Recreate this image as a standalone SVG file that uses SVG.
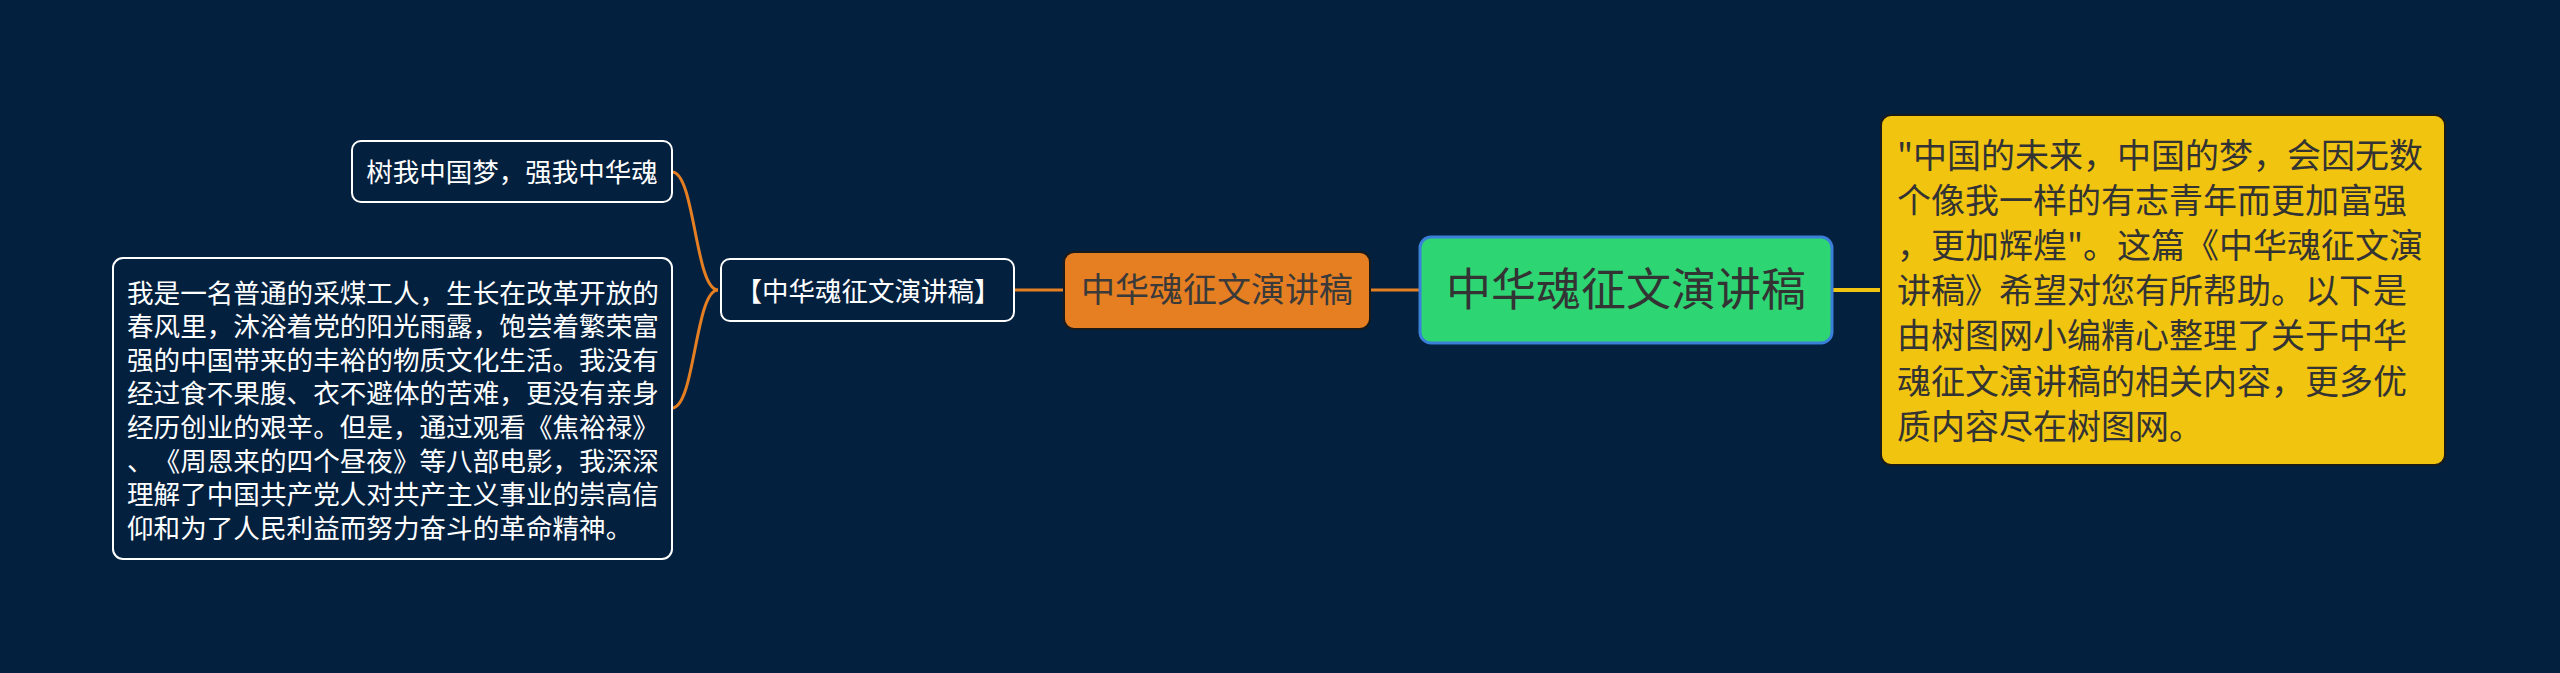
<svg xmlns="http://www.w3.org/2000/svg" width="2560" height="673" viewBox="0 0 2560 673">
<style>
text{font-family:"Noto Sans CJK SC","Noto Sans",sans-serif;text-spacing-trim:space-all;font-feature-settings:"chws" 0,"halt" 0;}
.lt{fill:#ffffff;}
.dk{fill:#333333;}
.outline{fill:#03213f;stroke:#ffffff;stroke-width:2;}
.ln{fill:none;stroke:#e67e22;stroke-width:3;}
</style>
<rect x="0" y="0" width="2560" height="673" fill="#03213f"/>
<g id="connectors">
<path class="ln" d="M718 290 C695 290 695 172 672 172"/>
<path class="ln" d="M718 290 C695 290 695 408 672 408"/>
<path class="ln" d="M1014 290 L1064 290"/>
<path class="ln" d="M1370 290 L1420 290"/>
<path d="M1832 290 L1881 290" fill="none" stroke="#f1c40f" stroke-width="4"/>
</g>
<g id="node-center">
<rect x="1420" y="237" width="412" height="106" rx="11" fill="#2ed573" stroke="#3a7fd8" stroke-width="3"/>
<text x="1626" y="306" font-size="45" text-anchor="middle" class="dk">中华魂征文演讲稿</text>
</g>
<g id="node-summary">
<rect x="1881" y="115" width="564" height="350" rx="10" fill="#f1c40f" stroke="#1a1a1a" stroke-width="2"/>
<text font-size="34" class="dk">
<tspan x="1897" y="167.5">"中国的未来，中国的梦，会因无数</tspan>
<tspan x="1897" y="212.7">个像我一样的有志青年而更加富强</tspan>
<tspan x="1897" y="257.9">，更加辉煌"。这篇《中华魂征文演</tspan>
<tspan x="1897" y="303.1">讲稿》希望对您有所帮助。以下是</tspan>
<tspan x="1897" y="348.3">由树图网小编精心整理了关于中华</tspan>
<tspan x="1897" y="393.5">魂征文演讲稿的相关内容，更多优</tspan>
<tspan x="1897" y="438.7">质内容尽在树图网。</tspan>
</text>
</g>
<g id="node-orange">
<rect x="1064" y="252" width="306" height="77" rx="10" fill="#e67e22" stroke="#1a1a1a" stroke-width="2"/>
<text x="1217" y="302" font-size="34" text-anchor="middle" fill="#3a3a3a">中华魂征文演讲稿</text>
</g>
<g id="node-bracket">
<rect class="outline" x="721" y="259" width="293" height="62" rx="9"/>
<text x="868" y="300.5" font-size="26.5" text-anchor="middle" class="lt">【中华魂征文演讲稿】</text>
</g>
<g id="node-top">
<rect class="outline" x="352" y="141" width="320" height="61" rx="9"/>
<text x="512" y="182" font-size="26.5" text-anchor="middle" class="lt">树我中国梦，强我中华魂</text>
</g>
<g id="node-bottom">
<rect class="outline" x="113" y="258" width="559" height="301" rx="10"/>
<text font-size="26.6" class="lt">
<tspan x="127" y="302.5">我是一名普通的采煤工人，生长在改革开放的</tspan>
<tspan x="127" y="336.1">春风里，沐浴着党的阳光雨露，饱尝着繁荣富</tspan>
<tspan x="127" y="369.7">强的中国带来的丰裕的物质文化生活。我没有</tspan>
<tspan x="127" y="403.3">经过食不果腹、衣不避体的苦难，更没有亲身</tspan>
<tspan x="127" y="436.9">经历创业的艰辛。但是，通过观看《焦裕禄》</tspan>
<tspan x="127" y="470.5">、《周恩来的四个昼夜》等八部电影，我深深</tspan>
<tspan x="127" y="504.1">理解了中国共产党人对共产主义事业的崇高信</tspan>
<tspan x="127" y="537.7">仰和为了人民利益而努力奋斗的革命精神。</tspan>
</text>
</g>
</svg>
